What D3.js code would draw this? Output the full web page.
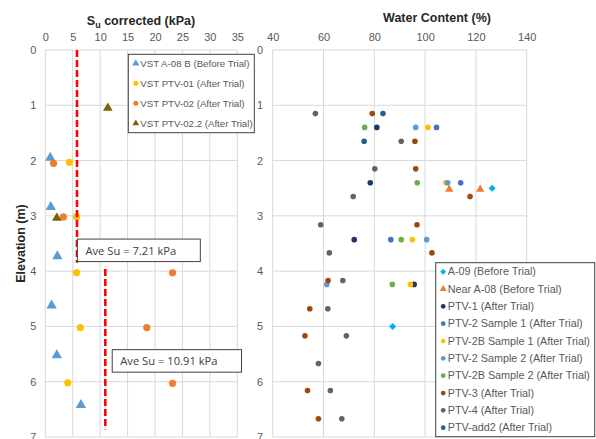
<!DOCTYPE html>
<html>
<head>
<meta charset="utf-8">
<script src="https://cdn.jsdelivr.net/npm/d3@7"></script>
<style>
  body { margin: 0; background: #fff; }
  svg { display: block; font-family: "Liberation Sans", Arial, sans-serif; }
</style>
</head>
<body>
<div id="chart"></div>
<script>
/* DADOS - Su corrigido (kPa) x Elevação (m) */
const suTicks = [0, 5, 10, 15, 20, 25, 30, 35];
const elevTicks = [0, 1, 2, 3, 4, 5, 6, 7];
const suA08 = [[0.9, 1.95], [1.0, 2.84], [2.2, 3.73], [1.15, 4.62], [2.1, 5.52], [6.5, 6.42]];
const suPtv01 = [[4.4, 2.03], [5.7, 3.02], [5.7, 4.03], [6.4, 5.02], [4.1, 6.02]];
const suPtv02 = [[1.5, 2.05], [3.3, 3.02], [23.2, 4.03], [18.5, 5.02], [23.2, 6.03]];
const suPtv022 = [[11.4, 1.05], [2.1, 3.04]];
const aveLines = [
    { x: 5.78, y0: 0, y1: 3.85, label: "Ave Su = 7.21 kPa", bx: 5.85, by: 3.42 },
    { x: 10.94, y0: 3.96, y1: 6.86, label: "Ave Su = 10.91 kPa", bx: 12.2, by: 5.42 }
];

/* DADOS - Teor de umidade (%) x Elevação (m) */
const wcTicks = [40, 60, 80, 100, 120, 140];
const wcA09 = [[126.4, 2.5], [87.2, 5.0]];
const wcNearA08 = [[109.5, 2.52], [121.7, 2.52]];
const wcPtv1 = [[81.0, 1.4], [78.4, 2.4], [72.1, 3.43], [95.7, 4.24]];
const wcPtv2s1 = [[104.5, 1.4], [114.0, 2.4], [86.5, 3.43]];
const wcPtv2bs1 = [[101.1, 1.4], [108.1, 2.4], [95.0, 3.43], [94.2, 4.24]];
const wcPtv2s2 = [[96.3, 1.4], [108.9, 2.4], [100.6, 3.43], [61.3, 4.24]];
const wcPtv2bs2 = [[76.2, 1.4], [96.9, 2.4], [90.6, 3.43], [87.1, 4.24]];
const wcPtv3 = [[79.2, 1.15], [96.0, 1.65], [96.3, 2.15], [117.7, 2.65], [96.8, 3.16], [102.7, 3.67],
                [61.8, 4.17], [54.6, 4.68], [52.7, 5.17], [53.7, 6.16], [58.0, 6.67]];
const wcPtv4 = [[56.8, 1.15], [90.6, 1.65], [80.2, 2.15], [71.7, 2.65], [58.9, 3.16], [62.3, 3.67],
                [67.6, 4.17], [61.7, 4.68], [69.0, 5.17], [58.0, 5.67], [62.7, 6.16], [67.2, 6.67]];
const wcPtvAdd2 = [[83.4, 1.15], [76.0, 1.65]];

const leftSeries = [
    { name: "VST A-08 B (Before Trial)", data: suA08, color: "#5B9BD5", shape: "tri", size: 46 },
    { name: "VST PTV-01 (After Trial)", data: suPtv01, color: "#FFC000", shape: "circle", size: 3.6 },
    { name: "VST PTV-02 (After Trial)", data: suPtv02, color: "#ED7D31", shape: "circle", size: 3.6 },
    { name: "VST PTV-02.2 (After Trial)", data: suPtv022, color: "#7F6000", shape: "tri", size: 40 }
];

const rightSeries = [
    { name: "A-09 (Before Trial)", data: wcA09, color: "#00B0F0", shape: "diamond", size: 25 },
    { name: "Near A-08 (Before Trial)", data: wcNearA08, color: "#ED7D31", shape: "tri", size: 30 },
    { name: "PTV-1 (After Trial)", data: wcPtv1, color: "#203864", shape: "circle", size: 2.8 },
    { name: "PTV-2 Sample 1 (After Trial)", data: wcPtv2s1, color: "#4472C4", shape: "circle", size: 2.8 },
    { name: "PTV-2B Sample 1 (After Trial)", data: wcPtv2bs1, color: "#FFC000", shape: "circle", size: 2.8 },
    { name: "PTV-2 Sample 2 (After Trial)", data: wcPtv2s2, color: "#5B9BD5", shape: "circle", size: 2.8 },
    { name: "PTV-2B Sample 2 (After Trial)", data: wcPtv2bs2, color: "#70AD47", shape: "circle", size: 2.8 },
    { name: "PTV-3 (After Trial)", data: wcPtv3, color: "#9E480E", shape: "circle", size: 2.8 },
    { name: "PTV-4 (After Trial)", data: wcPtv4, color: "#636363", shape: "circle", size: 2.8 },
    { name: "PTV-add2 (After Trial)", data: wcPtvAdd2, color: "#255E91", shape: "circle", size: 2.8 }
];

const width = 596;
const height = 439;
const gridColor = "#D9D9D9";
const labelColor = "#595959";

const svg = d3.select("#chart")
    .append("svg")
    .attr("width", width)
    .attr("height", height);

svg.append("rect").attr("width", width).attr("height", height).attr("fill", "#fff");

// desenha um marcador (círculo, triângulo ou losango)
function drawMarker(g, shape, size, color, x, y) {
    if (shape === "circle") {
        g.append("circle").attr("cx", x).attr("cy", y).attr("r", size).attr("fill", color);
    } else if (shape === "tri") {
        g.append("path")
            .attr("d", d3.symbol(d3.symbolTriangle, size)())
            .attr("transform", `translate(${x},${y})`)
            .attr("fill", color);
    } else {
        g.append("path")
            .attr("d", d3.symbol(d3.symbolSquare, size)())
            .attr("transform", `translate(${x},${y}) rotate(45)`)
            .attr("fill", color);
    }
}

// monta um painel (grade, eixos e pontos)
function panel(x, y, xTicks, yLabelPad, series) {
    const g = svg.append("g");

    g.selectAll(".vgrid")
        .data(xTicks)
        .join("line")
        .attr("x1", d => x(d)).attr("x2", d => x(d))
        .attr("y1", y.range()[0]).attr("y2", y.range()[1])
        .attr("stroke", gridColor);

    g.selectAll(".hgrid")
        .data(elevTicks)
        .join("line")
        .attr("x1", x.range()[0]).attr("x2", x.range()[1])
        .attr("y1", d => y(d)).attr("y2", d => y(d))
        .attr("stroke", gridColor);

    const xAxis = g.append("g")
        .attr("transform", `translate(0,${y.range()[0]})`)
        .call(d3.axisTop(x).tickValues(xTicks).tickFormat(d3.format("d")).tickSize(0).tickPadding(9));

    const yAxis = g.append("g")
        .attr("transform", `translate(${x.range()[0]},0)`)
        .call(d3.axisLeft(y).tickValues(elevTicks).tickFormat(d3.format("d")).tickSize(0).tickPadding(yLabelPad));

    [xAxis, yAxis].forEach(a => {
        a.select(".domain").remove();
        a.selectAll("text")
            .attr("fill", labelColor)
            .style("font-size", "11px")
            .style("font-family", "Liberation Sans, Arial, sans-serif");
    });

    series.forEach(s => {
        const sg = g.append("g");
        s.data.forEach(d => drawMarker(sg, s.shape, s.size, s.color, x(d[0]), y(d[1])));
    });
    return g;
}

// escalas
const xSu = d3.scaleLinear().domain([0, 35]).range([45.3, 237.3]);
const xWc = d3.scaleLinear().domain([40, 140]).range([272.7, 526.7]);
const yElev = d3.scaleLinear().domain([0, 7]).range([50, 437]);

panel(xSu, yElev, suTicks, 9, leftSeries);
panel(xWc, yElev, wcTicks, 9.5, rightSeries);

// linhas vermelhas de média
aveLines.forEach(l => {
    svg.append("line")
        .attr("x1", xSu(l.x)).attr("x2", xSu(l.x))
        .attr("y1", yElev(l.y0)).attr("y2", yElev(l.y1))
        .attr("stroke", "#FF0000")
        .attr("stroke-width", 2.6)
        .attr("stroke-dasharray", "7,3");
});

// caixas de texto "Ave Su"
aveLines.forEach(l => {
    const bx = xSu(l.bx);
    const by = yElev(l.by);
    const box = svg.append("g");
    const rect = box.append("rect")
        .attr("x", bx).attr("y", by)
        .attr("height", 22.5)
        .attr("fill", "#fff")
        .attr("stroke", "#404040")
        .attr("stroke-width", 1);
    const t = box.append("text")
        .attr("x", bx + 8)
        .attr("y", by + 15.5)
        .attr("fill", "#404040")
        .style("font-size", "11.2px")
        .style("font-family", "Open Sans, sans-serif")
        .text(l.label);
    rect.attr("width", t.node().getComputedTextLength() + 32);
});

// títulos
const t1 = svg.append("text")
    .attr("x", 141).attr("y", 25)
    .attr("text-anchor", "middle")
    .attr("fill", "#262626")
    .style("font-size", "12.5px")
    .style("font-weight", "bold");
t1.append("tspan").text("S");
t1.append("tspan").attr("dy", 3).style("font-size", "9px").text("u");
t1.append("tspan").attr("dy", -3).text(" corrected (kPa)");

svg.append("text")
    .attr("x", 437).attr("y", 21.5)
    .attr("text-anchor", "middle")
    .attr("fill", "#262626")
    .style("font-size", "12.5px")
    .style("font-weight", "bold")
    .text("Water Content (%)");

svg.append("text")
    .attr("transform", `translate(25,${yElev(3.5)}) rotate(-90)`)
    .attr("text-anchor", "middle")
    .attr("fill", "#262626")
    .style("font-size", "12.5px")
    .style("font-weight", "bold")
    .text("Elevation (m)");

// legendas
function legend(x0, y0, w, h, rowStep, fontSize, series, markerScale) {
    const g = svg.append("g");
    g.append("rect")
        .attr("x", x0).attr("y", y0)
        .attr("width", w).attr("height", h)
        .attr("fill", "#fff")
        .attr("stroke", "#404040")
        .attr("stroke-width", 1);
    series.forEach((s, i) => {
        const cy = y0 + 9 + i * rowStep;
        const size = s.shape === "circle" ? s.size * markerScale : s.size * markerScale * markerScale;
        drawMarker(g, s.shape, size, s.color, x0 + 7.5, cy);
        g.append("text")
            .attr("x", x0 + 12)
            .attr("y", cy)
            .attr("dy", "0.35em")
            .attr("fill", labelColor)
            .style("font-size", fontSize + "px")
            .text(s.name);
    });
}

legend(128.3, 54.3, 126, 78.4, 20, 9.7, leftSeries, 0.7);
legend(435.7, 262.7, 159, 174, 17.33, 10.8, rightSeries, 0.85);
</script>
</body>
</html>
